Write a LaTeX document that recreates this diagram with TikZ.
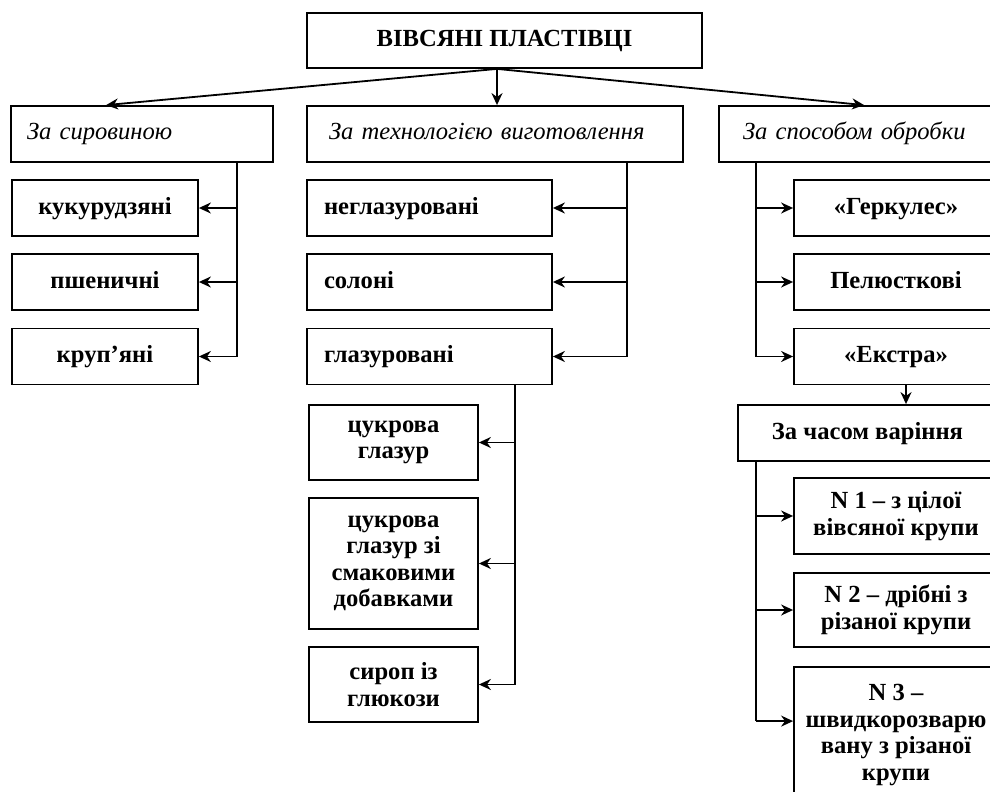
\documentclass[tikz,border=0pt]{standalone}
\usepackage{fontspec}
\setmainfont{Liberation Serif}
\usetikzlibrary{arrows.meta,calc}

\begin{document}
\begin{tikzpicture}[x=0.5pt, y=-0.5pt, line width=0.9pt,
  >={Stealth[length=6pt,width=5.5pt]},
  box/.style={draw, inner sep=0pt, align=center, font=\fontsize{12.3}{13.2}\selectfont\bfseries},
  oneline/.style={text height=8.5pt, text depth=2.5pt},
  lbox/.style={draw, oneline, inner ysep=0pt, inner xsep=#1, align=left, font=\fontsize{12.3}{13.2}\selectfont\bfseries},
  cat/.style={draw, oneline, inner ysep=0pt, inner xsep=#1, align=left, font=\fontsize{12.3}{13.2}\selectfont\itshape}]
  \useasboundingbox (0,0) rectangle (990,792);
  \clip (0,0) rectangle (990,792);

  % Root
  \node[box, oneline, minimum width=197.5pt, minimum height=27.5pt] (root) at (504.5,40.5) {ВІВСЯНІ ПЛАСТІВЦІ};
  \coordinate (hub) at ($(root.south)+(-7.5,0)$);

  % Criteria
  \node[cat=8pt, text width=115pt, minimum height=28pt] (raw) at (142,134) {За сировиною};
  \node[cat=11pt, text width=166pt, minimum height=28pt] (tech) at (495,134) {За технологією виготовлення};
  \node[cat=12pt, text width=115.5pt, minimum height=28pt] (proc) at (858.5,134) {За способом обробки};

  \draw[->] (hub) -- ($(raw.north west)+(96,0)$);
  \draw[->] (hub) -- (hub |- tech.north);
  \draw[->] (hub) -- ($(proc.north west)+(146,0)$);

  % By raw material
  \foreach \n/\y/\t in {corn/208/кукурудзяні, wheat/282/пшеничні, grits/356.5/крупʼяні} {
    \node[box, oneline, minimum width=93pt, minimum height=28pt] (\n) at (105,\y) {\t};
  }
  \coordinate (rawbus) at ($(raw.south east)+(-37,0)$);
  \draw (rawbus) -- (rawbus |- grits.east);
  \foreach \n in {corn,wheat,grits}
    \draw[->] (rawbus |- \n.east) -- (\n.east);

  % By technology
  \foreach \n/\y/\t in {plain/208/неглазуровані, salted/282/солоні, glazed/356.5/глазуровані} {
    \node[lbox=8.5pt, text width=105.5pt, minimum height=28pt] (\n) at (429.5,\y) {\t};
  }
  \coordinate (techbus) at ($(tech.south east)+(-57,0)$);
  \draw (techbus) -- (techbus |- glazed.east);
  \foreach \n in {plain,salted,glazed}
    \draw[->] (techbus |- \n.east) -- (\n.east);

  % Glaze kinds
  \node[box, minimum width=84.5pt, minimum height=37.5pt] (sugar) at (393.5,442.5) {цукрова\\глазур};
  \node[box, minimum width=84.5pt, minimum height=65.5pt] (flavour) at (393.5,563.5) {цукрова\\глазур зі\\смаковими\\добавками};
  \node[box, minimum width=84.5pt, minimum height=37.5pt] (syrup) at (393.5,684.5) {сироп із\\глюкози};
  \coordinate (glazebus) at ($(glazed.south east)+(-38,0)$);
  \draw (glazebus) -- (glazebus |- syrup.east);
  \foreach \n in {sugar,flavour,syrup}
    \draw[->] (glazebus |- \n.east) -- (\n.east);

  % By processing
  \foreach \n/\y/\t in {herc/208/«Геркулес», petal/282/Пелюсткові, extra/356.5/«Екстра»} {
    \node[box, oneline, minimum width=102pt, minimum height=28pt] (\n) at (896,\y) {\t};
  }
  \coordinate (procbus) at ($(proc.south west)+(38,0)$);
  \draw (procbus) -- (procbus |- extra.west);
  \foreach \n in {herc,petal,extra}
    \draw[->] (procbus |- \n.west) -- (\n.west);

  % Cooking time
  \node[box, oneline, minimum width=129.5pt, minimum height=28pt] (time) at (867.5,433) {За часом варіння};
  \coordinate (exdrop) at ($(extra.south)+(10,0)$);
  \draw[->] (exdrop) -- (exdrop |- time.north);

  \node[box, minimum width=102pt, minimum height=38pt] (n1) at (896,516) {N 1 – з цілої\\вівсяної крупи};
  \node[box, minimum width=102pt, minimum height=37pt] (n2) at (896,610) {N 2 – дрібні з\\різаної крупи};
  \node[box, minimum width=102pt, minimum height=68pt] (n3) at (896,735) {N 3 –\\швидкорозварю\\вану з різаної\\крупи};
  \coordinate (timebus) at ($(time.south west)+(19,0)$);
  \coordinate (n3in) at ($(n3.north west)+(0,55)$);
  \draw (timebus) -- (timebus |- n3in);
  \foreach \n in {n1.west,n2.west,n3in}
    \draw[->] (timebus |- \n) -- (\n);
\end{tikzpicture}
\end{document}
